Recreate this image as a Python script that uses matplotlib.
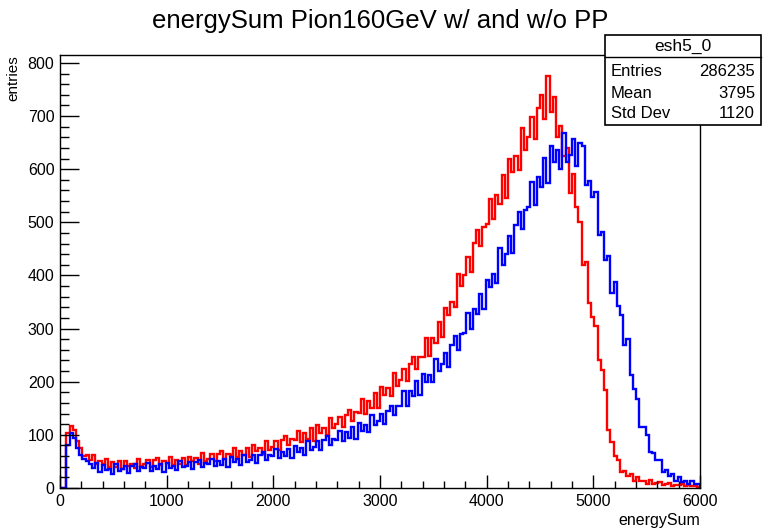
import numpy as np
import matplotlib
matplotlib.use("Agg")
import matplotlib.pyplot as plt
from matplotlib.patches import Rectangle
from matplotlib.ticker import MultipleLocator

plt.rcParams['font.family'] = ['Liberation Sans', 'DejaVu Sans']

title = "energySum Pion160GeV w/ and w/o PP"
x_label = "energySum"
y_label = "entries"
x_range = (0, 6000)
y_max = 815
n_bins = 200

# red histogram (w/o PP) - counts per bin
red_counts = [
    0, 0, 104, 116, 110, 88, 75, 61, 63, 52,
    62, 45, 51, 46, 55, 39, 48, 40, 50, 35,
    50, 41, 46, 37, 54, 42, 45, 52, 39, 52,
    56, 43, 50, 47, 58, 43, 53, 46, 57, 43,
    58, 50, 56, 46, 65, 51, 55, 64, 50, 64,
    69, 55, 64, 62, 75, 58, 70, 62, 75, 59,
    80, 69, 76, 64, 89, 72, 78, 89, 71, 90,
    97, 80, 92, 90, 107, 87, 103, 93, 113, 89,
    118, 104, 113, 100, 132, 112, 120, 133, 114, 137,
    147, 127, 143, 142, 168, 139, 164, 151, 179, 151,
    190, 175, 189, 174, 216, 192, 204, 224, 201, 233,
    246, 224, 247, 246, 282, 248, 283, 273, 313, 285,
    339, 326, 351, 341, 402, 380, 400, 435, 406, 461,
    486, 456, 492, 496, 544, 506, 551, 535, 590, 545,
    619, 595, 624, 599, 678, 637, 660, 698, 656, 715,
    740, 695, 775, 707, 736, 660, 681, 625, 640, 556,
    591, 529, 500, 420, 425, 349, 321, 305, 240, 222,
    185, 110, 86, 60, 53, 31, 32, 22, 26, 14,
    21, 14, 14, 8, 15, 8, 9, 11, 5, 8,
    9, 4, 6, 5, 7, 3, 5, 3, 4, 1,
]

# blue histogram (w/ PP) - counts per bin
blue_counts = [
    0, 0, 80, 104, 95, 76, 62, 55, 50, 46,
    38, 47, 30, 43, 33, 36, 27, 45, 32, 36,
    42, 29, 42, 45, 32, 39, 37, 47, 32, 42,
    35, 46, 31, 47, 38, 42, 34, 51, 39, 42,
    49, 36, 49, 52, 40, 47, 45, 55, 41, 51,
    44, 55, 40, 58, 48, 54, 44, 63, 49, 53,
    62, 47, 62, 67, 53, 62, 60, 73, 56, 68,
    60, 74, 57, 79, 67, 75, 63, 89, 71, 77,
    88, 71, 90, 97, 80, 92, 90, 107, 88, 105,
    95, 115, 92, 122, 108, 118, 106, 138, 118, 126,
    139, 121, 145, 155, 137, 155, 154, 182, 155, 183,
    173, 201, 175, 214, 199, 213, 199, 242, 220, 233,
    254, 227, 269, 287, 260, 289, 291, 330, 299, 337,
    327, 366, 337, 391, 378, 402, 385, 452, 420, 441,
    474, 442, 495, 519, 488, 524, 528, 576, 533, 585,
    567, 622, 574, 643, 614, 636, 601, 668, 613, 627,
    656, 606, 649, 643, 570, 578, 547, 558, 477, 481,
    429, 436, 367, 387, 342, 326, 269, 280, 213, 187,
    168, 114, 114, 100, 67, 65, 52, 53, 31, 33,
    22, 26, 14, 20, 12, 13, 8, 14, 7, 8,
]

stats_name = "esh5_0"
stats_rows = [("Entries", "286235"), ("Mean", "3795"), ("Std Dev", "1120")]

W, H = 763, 531
fig = plt.figure(figsize=(W / 100, H / 100), dpi=100)
ax = fig.add_axes([60 / W, 1 - 488 / H, 640 / W, (488 - 55) / H])

edges = np.linspace(x_range[0], x_range[1], n_bins + 1)
ax.stairs(red_counts, edges, color=(1, 0, 0), lw=1.7)
ax.stairs(blue_counts, edges, color=(0, 0, 1), lw=1.7)

ax.set_xlim(*x_range)
ax.set_ylim(0, y_max)
ax.xaxis.set_major_locator(MultipleLocator(1000))
ax.xaxis.set_minor_locator(MultipleLocator(200))
ax.yaxis.set_major_locator(MultipleLocator(100))
ax.yaxis.set_minor_locator(MultipleLocator(20))
ax.tick_params(axis='both', which='both', direction='in', top=False, right=False,
               labelsize=11.5, colors='black', width=1.0)
ax.tick_params(axis='y', which='major', length=13.5, pad=4)
ax.tick_params(axis='y', which='minor', length=6.8)
ax.tick_params(axis='x', which='major', length=9.5, pad=4)
ax.tick_params(axis='x', which='minor', length=4.8)
for s in ax.spines.values():
    s.set_linewidth(1.0)

ax.set_xlabel(x_label, fontsize=11.5, loc='right', labelpad=3)
ax.set_ylabel(y_label, fontsize=11, loc='top', labelpad=5)

fig.text(380 / W, 1 - 21 / H, title, ha='center', va='center', fontsize=18.5)

# stats box
bx0, bx1, by0, by1 = 605, 761, 35, 125
fig.patches.append(Rectangle((bx0 / W, 1 - by1 / H), (bx1 - bx0) / W, (by1 - by0) / H,
                             transform=fig.transFigure, facecolor='white',
                             edgecolor='black', lw=1.2, zorder=5))
fig.add_artist(plt.Line2D([bx0 / W, bx1 / W], [1 - 57 / H, 1 - 57 / H],
                          transform=fig.transFigure, color='black', lw=1.0, zorder=6))
fig.text((bx0 + bx1) / 2 / W, 1 - 46 / H, stats_name, ha='center', va='center',
         fontsize=12.5, zorder=7)
row_y = [71, 93, 113]
for (k, v), yy in zip(stats_rows, row_y):
    fig.text((bx0 + 6) / W, 1 - yy / H, k, ha='left', va='center', fontsize=12, zorder=7)
    fig.text((bx1 - 6) / W, 1 - yy / H, v, ha='right', va='center', fontsize=12, zorder=7)

fig.savefig("out.png", dpi=100, facecolor='white')
